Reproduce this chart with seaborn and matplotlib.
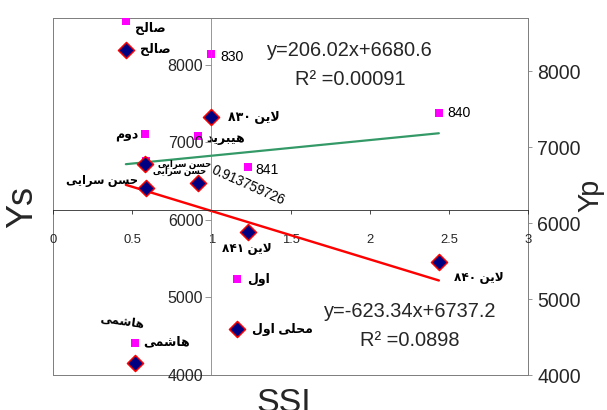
import matplotlib
matplotlib.use('Agg')
import numpy as np
import matplotlib.pyplot as plt
import seaborn as sns

# ------------------------------------------------
# Data

ssi = [0.46, 1.0, 0.58, 0.914, 0.585, 1.23, 1.165, 0.518, 2.437]
ys = [8190, 7323, 6721, 6472, 6408, 5847, 4587, 4153, 5458]
yp = [8667, 8220, 7170, 7140, 6823, 6736, 5265, 4427, 7447]

yp_labels = ['صالح', '830', 'دوم', 'هیبرید', 'حسن سرایی', '841', 'اول', 'هاشمی', '840']
ys_labels = ['صالح', 'لاین ۸۳۰', 'حسن سرایی', '0.913759726', 'حسن سرایی',
             'لاین ۸۴۱', 'محلی اول', 'هاشمی', 'لاین ۸۴۰']

yp_fit = [206.02, 6680.6]
ys_fit = [-623.34, 6737.2]
yp_eq = 'y=206.02x+6680.6'
yp_r2 = 'R² =0.00091'
ys_eq = 'y=-623.34x+6737.2'
ys_r2 = 'R² =0.0898'

x_ticks = [0, 0.5, 1, 1.5, 2, 2.5, 3]
y_ticks = [4000, 5000, 6000, 7000, 8000]

# label layout: dx, dy (points), ha, size, weight, rotation
yp_label_pos = [(9, -8, 'left', 12.5, 'bold', 0), (9, -3, 'left', 14, 'normal', 0),
                (-6, -1, 'right', 12.5, 'bold', 0), (9, -3, 'left', 12.5, 'bold', 0),
                (12, -4, 'left', 8.5, 'bold', 0), (8, -3, 'left', 14, 'normal', 0),
                (10, -1, 'left', 12.5, 'bold', 0), (8, 0, 'left', 12.5, 'bold', 0),
                (9, 0, 'left', 14, 'normal', 0)]
ys_label_pos = [(14, 0, 'left', 12.5, 'bold', 0), (17, 0, 'left', 12.5, 'bold', 0),
                (8, -8, 'left', 8.5, 'bold', 0), (50, -2, 'center', 13.5, 'normal', -24),
                (-8, 7, 'right', 11.5, 'bold', 0), (-1, -17, 'center', 12, 'bold', 0),
                (15, 0, 'left', 12.5, 'bold', 0), (-13, 41, 'center', 12, 'bold', -8),
                (15, -16, 'left', 12, 'bold', 0)]


# ------------------------------------------------
# Persian text -> visual order with presentation forms (matplotlib has no shaping)

JOIN = {  # isolated, final, initial, medial
    'ا': (0xFE8D, 0xFE8E), 'د': (0xFEA9, 0xFEAA), 'ر': (0xFEAD, 0xFEAE), 'و': (0xFEED, 0xFEEE),
    'ب': (0xFE8F, 0xFE90, 0xFE91, 0xFE92), 'ح': (0xFEA1, 0xFEA2, 0xFEA3, 0xFEA4),
    'س': (0xFEB1, 0xFEB2, 0xFEB3, 0xFEB4), 'ش': (0xFEB5, 0xFEB6, 0xFEB7, 0xFEB8),
    'ص': (0xFEB9, 0xFEBA, 0xFEBB, 0xFEBC), 'ل': (0xFEDD, 0xFEDE, 0xFEDF, 0xFEE0),
    'م': (0xFEE1, 0xFEE2, 0xFEE3, 0xFEE4), 'ن': (0xFEE5, 0xFEE6, 0xFEE7, 0xFEE8),
    'ه': (0xFEE9, 0xFEEA, 0xFEEB, 0xFEEC), 'ی': (0xFEEF, 0xFEF0, 0xFEF3, 0xFEF4),
}


def shape_word(word):
    out = []
    i = 0
    while i < len(word):
        c = word[i]
        if c not in JOIN:
            out.append(c)
            i += 1
            continue
        prev = i > 0 and word[i - 1] in JOIN and len(JOIN[word[i - 1]]) == 4
        if c == 'ل' and i + 1 < len(word) and word[i + 1] == 'ا':
            out.append(chr(0xFEFC if prev else 0xFEFB))
            i += 2
            continue
        nxt = len(JOIN[c]) == 4 and i + 1 < len(word) and word[i + 1] in JOIN
        forms = JOIN[c]
        if prev and nxt:
            g = forms[3]
        elif prev:
            g = forms[1]
        elif nxt:
            g = forms[2]
        else:
            g = forms[0]
        out.append(chr(g))
        i += 1
    return ''.join(reversed(out))


def rtl(text):
    if not any(ch in JOIN for ch in text):
        return text
    tokens = text.split(' ')
    # words are reversed and shaped, digit runs keep their order
    return ' '.join(shape_word(t) if any(ch in JOIN for ch in t) else t
                    for t in reversed(tokens))


# ------------------------------------------------

sns.set_style('white')
plt.rcParams['font.family'] = ['Liberation Sans', 'DejaVu Sans']

W, H = 607, 410
fig = plt.figure(figsize=(W / 72, H / 72), dpi=72)
fig.patch.set_facecolor('white')
L, R, T, B = 53, 528, 18, 375
ax = fig.add_axes([L / W, (H - B) / H, (R - L) / W, (B - T) / H])
ax2 = ax.twinx()
ax.set_zorder(ax2.get_zorder() + 1)
ax.patch.set_visible(False)

ax.set_xlim(0, 3)
ax.set_ylim(4000, 8600)
ax2.set_ylim(4000, 8700)

# Yp series (right axis)
sns.scatterplot(x=ssi, y=yp, ax=ax2, marker='s', s=64, color='#FF00FF',
                linewidth=0, zorder=3)
xr = np.array([min(ssi), max(ssi)])
sns.lineplot(x=xr, y=yp_fit[0] * xr + yp_fit[1], ax=ax2, color='#339966',
             linewidth=2.2, zorder=2)

# Ys series (left axis)
sns.lineplot(x=xr, y=ys_fit[0] * xr + ys_fit[1], ax=ax, color='#FF0000',
             linewidth=2.4, zorder=2)
sns.scatterplot(x=ssi, y=ys, ax=ax, marker='D', s=130, color='#000080',
                edgecolor='#FF0000', linewidth=1.5, zorder=3)

# data labels
for x, y, lab, (dx, dy, ha, fs, fw, rot) in zip(ssi, yp, yp_labels, yp_label_pos):
    ax2.annotate(rtl(lab), xy=(x, y), xytext=(dx, dy), textcoords='offset points',
                 ha=ha, va='center', fontsize=fs, fontweight=fw, rotation=rot,
                 rotation_mode='anchor', color='black')
for x, y, lab, (dx, dy, ha, fs, fw, rot) in zip(ssi, ys, ys_labels, ys_label_pos):
    ax.annotate(rtl(lab), xy=(x, y), xytext=(dx, dy), textcoords='offset points',
                ha=ha, va='center', fontsize=fs, fontweight=fw, rotation=rot,
                rotation_mode='anchor', color='black')

# spines: left axis at SSI=1, x axis crossing inside the plot
ax.spines['left'].set_position(('data', 1.0))
ax.spines['left'].set_color('#808080')
ax.spines['bottom'].set_position(('data', 6126))
ax.spines['bottom'].set_color('#202020')
ax.spines['top'].set_visible(False)
ax.spines['right'].set_visible(False)
for s in ['left', 'right', 'top', 'bottom']:
    ax2.spines[s].set_visible(True)
    ax2.spines[s].set_color('#808080')
    ax2.spines[s].set_linewidth(1.0)

ax.set_xticks(x_ticks)
ax.set_xticklabels([f'{t:g}' for t in x_ticks])
ax.set_yticks(y_ticks)
ax.tick_params(axis='x', direction='out', length=4, pad=20, labelsize=13,
               bottom=True, color='#202020')
ax.tick_params(axis='y', direction='out', length=6, pad=2, labelsize=16,
               left=True, color='#808080')
ax2.set_yticks(y_ticks)
ax2.tick_params(axis='y', direction='out', length=4, pad=5, labelsize=19.5,
                right=True, color='#808080')
ax.set_xlabel('')
ax.set_ylabel('')
ax2.set_ylabel('')
ax.grid(False)
ax2.grid(False)

# trendline equations
ax.text(0.625, 0.908, yp_eq, transform=ax.transAxes, ha='center', va='center', fontsize=20)
ax.text(0.625, 0.829, yp_r2, transform=ax.transAxes, ha='center', va='center', fontsize=20)
ax.text(0.7516, 0.1765, ys_eq, transform=ax.transAxes, ha='center', va='center', fontsize=20)
ax.text(0.7516, 0.098, ys_r2, transform=ax.transAxes, ha='center', va='center', fontsize=20)

# axis titles
fig.text(23 / W, 1 - 207 / H, 'Ys', rotation=90, ha='center', va='center', fontsize=36)
fig.text(590 / W, 1 - 195 / H, 'Yp', rotation=90, ha='center', va='center', fontsize=29)
fig.text(284 / W, (H - 412) / H, 'SSI', ha='center', va='baseline', fontsize=34)

fig.savefig('out.png', dpi=72)
